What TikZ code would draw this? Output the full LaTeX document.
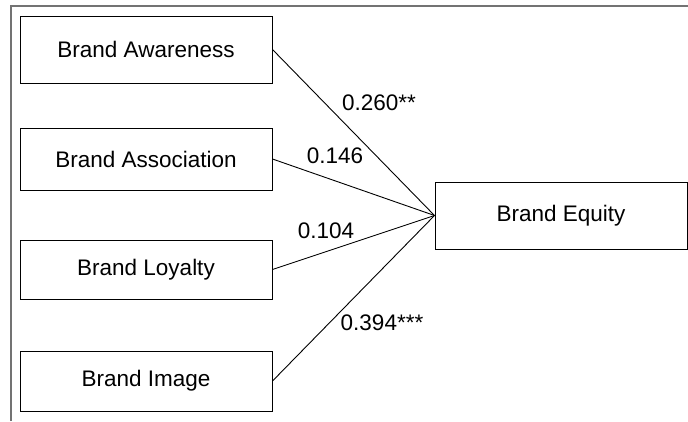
\documentclass[tikz,border=0pt]{standalone}
\usepackage{fontspec}
\setmainfont{Liberation Sans}
\usepackage{tikz}

\begin{document}
\begin{tikzpicture}[x=1pt,y=-1pt]
	\tikzstyle{every node}+=[inner sep=0pt, font=\fontsize{22.5}{27}\selectfont]
	\tikzstyle{factor}=[draw=black, line width=1pt, minimum width=252pt]
	\useasboundingbox (0,0) rectangle (688,421);
	\draw [black!55, line width=1.3pt] (11,421) -- (11,6) -- (688,6);
	\node [factor, minimum height=67pt] (aware) at (146,49.5) {Brand Awareness};
	\node [factor, minimum height=62pt] (assoc) at (146,159) {Brand Association};
	\node [factor, minimum height=59pt] (loyal) at (146,269.5) {Brand Loyalty};
	\node [factor, minimum height=60pt] (image) at (146,381) {Brand Image};
	\node [factor, minimum height=67pt] (equity) at (561,215.5) {Brand Equity};
	\draw [black, line width=0.9pt] (aware.east) -- (equity.west);
	\draw [black, line width=0.9pt] (assoc.east) -- (equity.west);
	\draw [black, line width=0.9pt] (loyal.east) -- (equity.west);
	\draw [black, line width=0.9pt] (image.east) -- (equity.west);
	\node (w1) at (379,103) {0.260**};
	\node (w2) at (335,156) {0.146};
	\node (w3) at (326,231) {0.104};
	\node (w4) at (382,323) {0.394***};
\end{tikzpicture}
\end{document}
